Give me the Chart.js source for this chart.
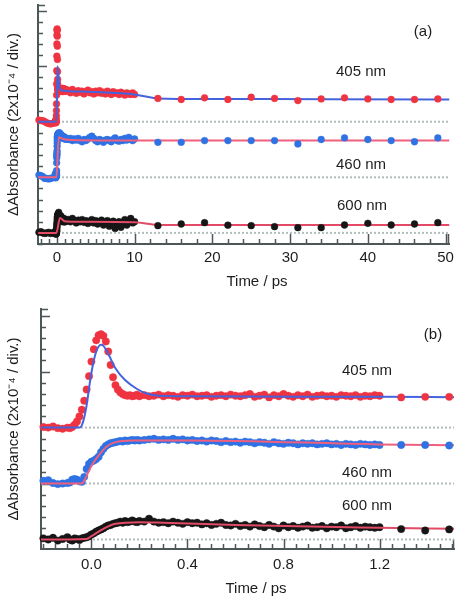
<!DOCTYPE html>
<html>
<head>
<meta charset="utf-8">
<script src="https://cdn.jsdelivr.net/npm/chart.js@4.4.1/dist/chart.umd.min.js"></script>
<style>
  html, body { margin: 0; padding: 0; background: #fff; }
  #wrap { position: relative; width: 459px; height: 599px; }
  canvas { position: absolute; left: 0; }
</style>
</head>
<body>
<div id="wrap">
  <canvas id="chartA" width="459" height="299" style="top:0"></canvas>
  <canvas id="chartB" width="459" height="300" style="top:299px"></canvas>
</div>
<script>
const FONT = '"Liberation Sans", Arial, sans-serif';
const AXIS_COLOR = '#4d5757';
const TEXT_COLOR = '#1d1d1d';
const Y_TITLE = 'ΔAbsorbance (2x10⁻⁴ / div.)';
const X_TITLE = 'Time / ps';
const WAVELENGTHS = ['405 nm', '460 nm', '600 nm'];
const OFFSETS = [10, 5, 0]; // traces are stacked, in divisions

// --- panel (b): early times, also reused inside panel (a) ---
const B_TICKS = [0.0, 0.4, 0.8, 1.2];
const B_T = [-0.20, -0.18, -0.16, -0.14, -0.12, -0.10,
  -0.09, -0.08, -0.07, -0.06, -0.05, -0.04, -0.03, -0.02, -0.01, 0.00,
  0.01, 0.02, 0.03, 0.04, 0.05, 0.06, 0.07, 0.08, 0.09, 0.10,
  0.11, 0.12, 0.13, 0.14, 0.15, 0.16, 0.17, 0.18, 0.19, 0.20,
  0.22, 0.24, 0.26, 0.28, 0.30, 0.32, 0.34, 0.36, 0.38, 0.40,
  0.42, 0.44, 0.46, 0.48, 0.50, 0.52, 0.54, 0.56, 0.58, 0.60,
  0.62, 0.64, 0.66, 0.68, 0.70, 0.72, 0.74, 0.76, 0.78, 0.80,
  0.82, 0.84, 0.86, 0.88, 0.90, 0.92, 0.94, 0.96, 0.98, 1.00,
  1.02, 1.04, 1.06, 1.08, 1.10, 1.12, 1.14, 1.16, 1.18, 1.20];
const B_405 = [0.05, 0.0, 0.1, -0.05, -0.1, 0.0,
  -0.05, 0.05, 0.25, 0.55, 1.0, 1.6, 2.4, 3.4, 4.6, 5.9,
  7.0, 7.8, 8.25, 8.35, 8.2, 7.7, 6.8, 5.6, 4.5, 3.8,
  3.4, 3.15, 3.0, 2.9, 2.85, 2.9, 2.8, 2.85, 2.95, 2.8,
  2.9, 2.8, 2.85, 2.95, 2.8, 2.9, 2.85, 2.75, 2.9, 2.85,
  2.95, 2.8, 2.85, 2.9, 2.75, 2.85, 2.9, 2.8, 2.95, 2.85,
  2.8, 2.9, 3.0, 2.75, 2.85, 2.95, 2.7, 2.9, 2.8, 3.0,
  2.85, 2.75, 2.9, 2.8, 2.95, 2.75, 2.85, 2.9, 2.8, 2.85,
  2.75, 2.9, 2.85, 2.8, 2.9, 2.75, 2.85, 2.8, 2.9, 2.85];
const B_460 = [0.25, 0.3, 0.05, -0.05, 0.0, 0.05,
  0.1, 0.35, 0.4, 0.35, 0.2, 0.15, 0.6, 1.3, 1.75, 1.95,
  2.05, 2.2, 2.4, 2.8, 3.1, 3.35, 3.5, 3.6, 3.65, 3.7,
  3.75, 3.8, 3.75, 3.85, 3.8, 3.85, 3.9, 3.85, 3.9, 3.85,
  3.9, 3.95, 4.0, 3.9, 3.95, 3.9, 4.0, 3.9, 3.95, 3.85,
  3.9, 3.8, 3.85, 3.75, 3.85, 3.8, 3.7, 3.8, 3.7, 3.75,
  3.65, 3.75, 3.7, 3.6, 3.7, 3.65, 3.55, 3.7, 3.6, 3.55,
  3.65, 3.6, 3.5, 3.6, 3.55, 3.6, 3.5, 3.55, 3.6, 3.5,
  3.55, 3.45, 3.55, 3.5, 3.45, 3.55, 3.5, 3.45, 3.5, 3.45];
const B_600 = [0.1, 0.0, 0.15, -0.1, 0.05, 0.2,
  0.0, -0.1, 0.1, 0.05, -0.05, 0.1, 0.15, 0.2, 0.3, 0.45,
  0.55, 0.7, 0.8, 0.9, 1.0, 1.15, 1.25, 1.3, 1.4, 1.45,
  1.5, 1.6, 1.5, 1.65, 1.55, 1.6, 1.7, 1.6, 1.55, 1.65,
  1.6, 1.85, 1.6, 1.5, 1.55, 1.45, 1.6, 1.5, 1.4, 1.55,
  1.45, 1.5, 1.35, 1.45, 1.3, 1.4, 1.5, 1.3, 1.25, 1.4,
  1.2, 1.3, 1.15, 1.35, 1.2, 1.1, 1.3, 1.15, 1.0, 1.25,
  1.1, 1.2, 1.05, 1.15, 1.25, 1.05, 1.1, 1.2, 1.0, 1.15,
  1.1, 1.25, 1.0, 1.1, 1.2, 1.05, 1.15, 1.1, 1.05, 1.1];
const B_SPARSE_T = [1.29, 1.39, 1.49];
const B_SPARSE_405 = [2.7, 2.75, 2.75];
const B_SPARSE_460 = [3.45, 3.45, 3.4];
const B_SPARSE_600 = [0.93, 0.8, 0.9];
const B_FIT_405_T = [-0.21, -0.05, -0.04, -0.03, -0.02, -0.01, 0.0, 0.01, 0.02, 0.03, 0.04, 0.05, 0.07, 0.10, 0.14, 0.19, 0.23, 0.28, 0.40, 1.2, 1.51];
const B_FIT_405 = [0, 0, 0.2, 0.9, 2.0, 3.5, 4.9, 6.0, 6.8, 7.25, 7.4, 7.3, 6.6, 5.3, 4.25, 3.45, 3.05, 2.85, 2.8, 2.75, 2.72];
const B_FIT_460_T = [-0.21, -0.04, -0.02, 0.0, 0.03, 0.06, 0.10, 0.17, 0.40, 1.2, 1.51];
const B_FIT_460 = [0, 0, 0.7, 1.6, 2.5, 3.25, 3.7, 3.85, 3.85, 3.5, 3.42];
const B_FIT_600_T = [-0.21, -0.02, 0.0, 0.05, 0.10, 0.20, 0.30, 0.60, 1.2, 1.51];
const B_FIT_600 = [0, 0.05, 0.3, 0.95, 1.4, 1.55, 1.5, 1.3, 1.05, 0.95];

// --- panel (a): long time window ---
const A_TICKS = [0, 10, 20, 30, 40, 50];
const A_PRE_T = [-2.3, -2.05, -1.8, -1.55, -1.3, -1.05, -0.8, -0.55, -0.3];
const A_PRE_405 = [0.15, 0.1, 0.1, 0.0, -0.1, -0.15, -0.2, -0.15, -0.1];
const A_PRE_460 = [0.2, 0.15, 0.05, -0.1, -0.1, -0.15, -0.1, -0.05, 0.0];
const A_PRE_600 = [0.05, 0.1, 0.0, -0.05, 0.0, 0.05, -0.05, 0.0, 0.05];
const A_LATE_T = [1.5, 1.75, 2, 2.25, 2.5, 2.75, 3, 3.25, 3.5, 3.75, 4, 4.25, 4.5, 4.75, 5, 5.25, 5.5, 5.75,
  6, 6.25, 6.5, 6.75, 7, 7.25, 7.5, 7.75, 8, 8.25, 8.5, 8.75, 9, 9.25, 9.5, 9.75, 10];
const A_LATE_405 = [2.8, 2.6, 2.9, 2.7, 2.55, 2.8, 2.65, 2.75, 2.5, 2.7, 2.85, 2.6, 2.7, 2.5, 2.75, 2.6, 2.8, 2.55,
  2.65, 2.5, 2.75, 2.6, 2.45, 2.7, 2.55, 2.6, 2.45, 2.65, 2.5, 2.4, 2.6, 2.5, 2.45, 2.6, 2.45];
const A_LATE_460 = [3.4, 3.5, 3.3, 3.45, 3.35, 3.5, 3.3, 3.2, 3.4, 3.3, 3.45, 3.6, 3.7, 3.5, 3.3, 3.2, 3.4, 3.3,
  3.15, 3.35, 3.4, 3.3, 3.2, 3.4, 3.55, 3.3, 3.25, 3.4, 3.3, 3.5, 3.35, 3.6, 3.4, 3.3, 3.45];
const A_LATE_600 = [1.2, 1.0, 1.3, 1.1, 0.9, 1.15, 1.0, 1.2, 0.95, 1.1, 0.85, 1.05, 1.2, 0.9, 1.1, 0.8, 1.0, 1.15,
  0.7, 0.95, 1.1, 0.6, 0.9, 1.05, 0.4, 0.8, 1.0, 0.5, 0.9, 1.2, 0.7, 1.0, 1.3, 0.9, 1.0];
const A_SPARSE_T = [13, 16, 19, 22, 25, 28, 31, 34, 37, 40, 43, 46, 49];
const A_SPARSE_405 = [2.1, 2.0, 2.15, 2.0, 2.2, 2.1, 1.9, 2.05, 2.15, 2.05, 2.0, 2.0, 2.05];
const A_SPARSE_460 = [3.15, 3.15, 3.3, 3.3, 3.3, 3.3, 3.0, 3.4, 3.55, 3.4, 3.3, 3.2, 3.55];
const A_SPARSE_600 = [0.65, 0.8, 0.92, 0.69, 0.65, 0.56, 0.47, 0.47, 0.71, 0.86, 0.71, 0.8, 0.92];
const A_FIT_405_T = [-2.4, -0.05, 0.1, 0.35, 0.7, 1.5, 4, 7, 10, 13, 20, 35, 50.5];
const A_FIT_405 = [0, 0, 5.0, 3.0, 2.8, 2.75, 2.7, 2.6, 2.45, 2.1, 2.05, 2.02, 2.0];
const A_FIT_460_T = [-2.4, -0.05, 0.25, 0.8, 2, 10, 13, 50.5];
const A_FIT_460 = [0, 0, 3.6, 3.45, 3.35, 3.3, 3.3, 3.3];
const A_FIT_600_T = [-2.4, -0.05, 0.4, 1, 3, 10, 13, 50.5];
const A_FIT_600 = [0, 0, 1.35, 1.05, 1.0, 0.95, 0.72, 0.72];

const MARK_COLORS = ['#ef3340', '#2f72e4', '#161616'];
const MARK_EDGES = ['rgba(239,51,64,0.45)', 'rgba(47,114,228,0.45)', 'rgba(22,22,22,0.45)'];
const FIT_COLORS = ['#4563de', '#f0607e', '#e24a66'];

function pts(ts, vs, off) {
  return ts.map((t, i) => ({x: t, y: vs[i] + off}));
}

function buildSets(p) {
  const sets = [];
  for (let k = 0; k < 3; k++) {
    const off = OFFSETS[k];
    const marker = {
      showLine: false, clip: false, pointRadius: p.r, pointBorderWidth: 1,
      pointBackgroundColor: MARK_COLORS[k], pointBorderColor: MARK_EDGES[k]
    };
    // sparse long-time points, on top
    sets.push(Object.assign({data: pts(p.sparseT, p.sparse[k], off), order: 0}, marker));
    // fit curve
    sets.push({
      data: pts(p.fitT[k], p.fit[k], off), order: 1, pointRadius: 0,
      borderColor: FIT_COLORS[k], borderWidth: 2, cubicInterpolationMode: 'monotone'
    });
    // dense data
    sets.push(Object.assign({data: pts(p.denseT, p.dense[k], off), order: 2}, marker));
    // dotted zero line of the trace
    sets.push({
      data: [{x: p.xmin, y: off}, {x: p.xmax, y: off}], order: 3, pointRadius: 0,
      borderColor: '#b2bcbc', borderWidth: 2, borderDash: [2, 2]
    });
  }
  return sets;
}

// inward tick marks on left and bottom axes
const inwardTicks = {
  id: 'inwardTicks',
  beforeDatasetsDraw(chart, args, opts) {
    const {ctx, chartArea: a, scales: {x, y}} = chart;
    ctx.save();
    ctx.strokeStyle = AXIS_COLOR;
    ctx.lineWidth = 1.5;
    ctx.beginPath();
    opts.xRuns.forEach(r => {
      for (let v = r.from; v <= r.to + 1e-9; v += r.step) {
        const major = opts.xMajor.some(m => Math.abs(m - v) < 1e-6);
        const px = Math.round(x.getPixelForValue(v)) + 0.5;
        ctx.moveTo(px, a.bottom);
        ctx.lineTo(px, a.bottom - (major ? 10 : 5));
      }
    });
    const pxEnd = Math.round(x.getPixelForValue(x.max)) - 0.5;
    ctx.moveTo(pxEnd, a.bottom);
    ctx.lineTo(pxEnd, a.bottom - 10);
    for (let v = Math.ceil(y.min); v <= y.max; v++) {
      const py = Math.round(y.getPixelForValue(v)) + 0.5;
      ctx.moveTo(a.left, py);
      ctx.lineTo(a.left + (v % 5 === 0 ? 9 : 5), py);
    }
    ctx.moveTo(a.left, a.top + 0.5);
    ctx.lineTo(a.left + 7, a.top + 0.5);
    ctx.stroke();
    ctx.restore();
  }
};

const panelText = {
  id: 'panelText',
  afterDraw(chart, args, opts) {
    const ctx = chart.ctx;
    ctx.save();
    ctx.fillStyle = TEXT_COLOR;
    ctx.font = '15px ' + FONT;
    ctx.textAlign = 'center';
    ctx.textBaseline = 'middle';
    opts.items.forEach(it => ctx.fillText(it.text, it.x, it.y));
    ctx.restore();
  }
};

function makeChart(id, p) {
  return new Chart(document.getElementById(id), {
    type: 'line',
    data: {datasets: buildSets(p)},
    plugins: [inwardTicks, panelText],
    options: {
      responsive: false,
      devicePixelRatio: 1,
      animation: false,
      layout: {padding: p.pad},
      plugins: {
        legend: {display: false},
        tooltip: {enabled: false},
        inwardTicks: {xRuns: p.xRuns, xMajor: p.ticks},
        panelText: {items: p.texts}
      },
      scales: {
        x: {
          type: 'linear', min: p.xmin, max: p.xmax,
          grid: {display: false, drawTicks: false},
          border: {display: true, color: AXIS_COLOR, width: 2},
          afterBuildTicks: s => { s.ticks = p.ticks.map(v => ({value: v})); },
          afterFit: s => { s.height = p.xHeight; },
          ticks: {
            padding: p.tickPad, color: TEXT_COLOR, maxRotation: 0, autoSkip: false,
            font: {size: 15, family: FONT},
            callback: v => p.fmt(v)
          }
        },
        y: {
          type: 'linear', min: p.ymin, max: p.ymax,
          grid: {display: false, drawTicks: false},
          border: {display: true, color: AXIS_COLOR, width: 2},
          ticks: {display: false},
          afterFit: s => { s.width = p.yWidth; },
          title: {
            display: true, text: Y_TITLE, color: TEXT_COLOR,
            font: {size: 15, family: FONT}, padding: {top: 5, bottom: 0}
          }
        }
      }
    }
  });
}

makeChart('chartA', {
  xmin: -2.42, xmax: 50.5, ymin: -1.0, ymax: 20.5, r: 3.4,
  pad: {left: 0, top: 3, right: 6, bottom: 0}, xHeight: 55, yWidth: 38, tickPad: 5,
  ticks: A_TICKS, fmt: v => String(v),
  xRuns: [{from: -2, to: 10, step: 1}, {from: 12, to: 50, step: 2}],
  denseT: A_PRE_T.concat(B_T, A_LATE_T),
  dense: [A_PRE_405.concat(B_405, A_LATE_405), A_PRE_460.concat(B_460, A_LATE_460), A_PRE_600.concat(B_600, A_LATE_600)],
  sparseT: A_SPARSE_T, sparse: [A_SPARSE_405, A_SPARSE_460, A_SPARSE_600],
  fitT: [A_FIT_405_T, A_FIT_460_T, A_FIT_600_T], fit: [A_FIT_405, A_FIT_460, A_FIT_600],
  texts: [
    {text: '(a)', x: 423, y: 32},
    {text: WAVELENGTHS[0], x: 361, y: 72},
    {text: WAVELENGTHS[1], x: 361, y: 165},
    {text: WAVELENGTHS[2], x: 362, y: 206},
    {text: X_TITLE, x: 257, y: 282}
  ]
});

makeChart('chartB', {
  xmin: -0.21, xmax: 1.51, ymin: -0.85, ymax: 20.6, r: 3.7,
  pad: {left: 0, top: 10, right: 4, bottom: 0}, xHeight: 50, yWidth: 41, tickPad: 7,
  ticks: B_TICKS, fmt: v => v.toFixed(1),
  xRuns: [{from: -0.2, to: 1.5, step: 0.05}],
  denseT: B_T, dense: [B_405, B_460, B_600],
  sparseT: B_SPARSE_T, sparse: [B_SPARSE_405, B_SPARSE_460, B_SPARSE_600],
  fitT: [B_FIT_405_T, B_FIT_460_T, B_FIT_600_T], fit: [B_FIT_405, B_FIT_460, B_FIT_600],
  texts: [
    {text: '(b)', x: 433, y: 36},
    {text: WAVELENGTHS[0], x: 367, y: 72},
    {text: WAVELENGTHS[1], x: 367, y: 174},
    {text: WAVELENGTHS[2], x: 367, y: 207},
    {text: X_TITLE, x: 256, y: 290}
  ]
});
</script>
</body>
</html>
